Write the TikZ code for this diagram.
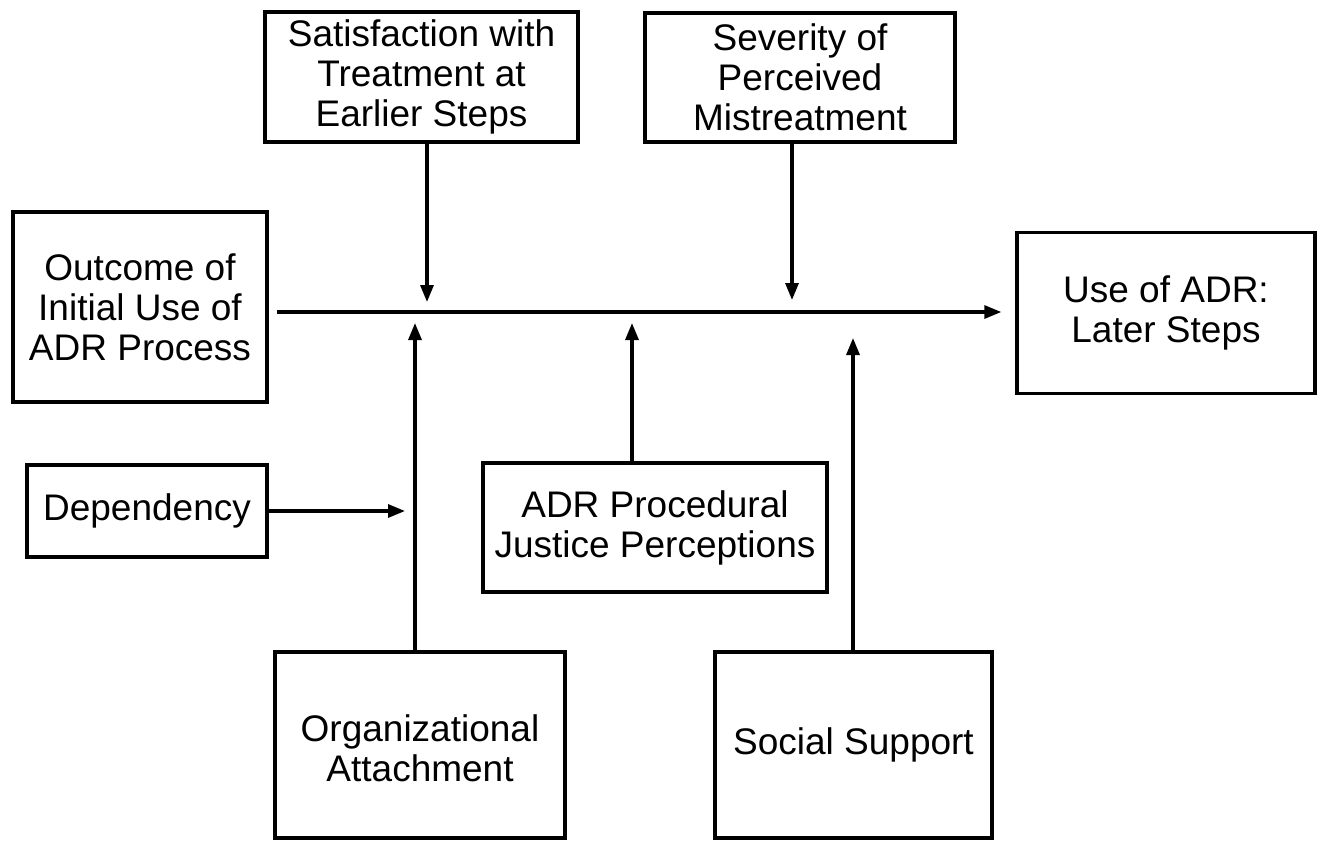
\documentclass[tikz,border=0pt]{standalone}
\usepackage{fontspec}
\setmainfont{Liberation Sans}
\usetikzlibrary{arrows.meta}
\begin{document}
\begin{tikzpicture}[x=1pt,y=-1pt,
  box/.style={draw=black, line width=3.4pt, fill=white, align=center, inner sep=0pt,
    font=\fontsize{37}{40}\selectfont},
  arr/.style={line width=3.2pt, -{Triangle[length=17pt,width=13pt]}}]
\useasboundingbox[fill=white] (0,0) rectangle (1322,841);
% boxes
\node[box, minimum width=313pt, minimum height=130pt] (sat) at (421.5,77) {Satisfaction with\\Treatment at\\Earlier Steps};
\node[box, minimum width=310pt, minimum height=129pt] (sev) at (800,77.5) {Severity of\\Perceived\\Mistreatment};
\node[box, minimum width=254pt, minimum height=190pt] (out) at (140,307) {Outcome of\\Initial Use of\\ADR Process};
\node[box, minimum width=298pt, minimum height=161pt] (use) at (1166,313) {Use of ADR:\\Later Steps};
\node[box, minimum width=240pt, minimum height=92pt] (dep) at (147,511) {Dependency};
\node[box, minimum width=344pt, minimum height=129pt] (adr) at (655,527.5) {ADR Procedural\\Justice Perceptions};
\node[box, minimum width=290pt, minimum height=186pt] (org) at (420,745) {\\[-6pt]Organizational\\Attachment};
\node[box, minimum width=277pt, minimum height=186pt] (soc) at (853.5,745) {Social Support};
% coordinates
\coordinate (m) at (0,312);
\coordinate (tsat) at (427,302);
\coordinate (tsev) at (792,300);
\coordinate (torg) at (415,323);
\coordinate (tadr) at (632,323);
\coordinate (tsoc) at (853,338);
\coordinate (tdep) at (405,511);
% connectors
\draw[arr] ([xshift=8pt]out.east |- m) -- ([xshift=-14pt]use.west |- m);
\draw[arr] (tsat |- sat.south) -- (tsat);
\draw[arr] (tsev |- sev.south) -- (tsev);
\draw[arr] (torg |- org.north) -- (torg);
\draw[arr] (tadr |- adr.north) -- (tadr);
\draw[arr] (tsoc |- soc.north) -- (tsoc);
\draw[arr] (dep.east) -- (tdep);
\end{tikzpicture}
\end{document}
